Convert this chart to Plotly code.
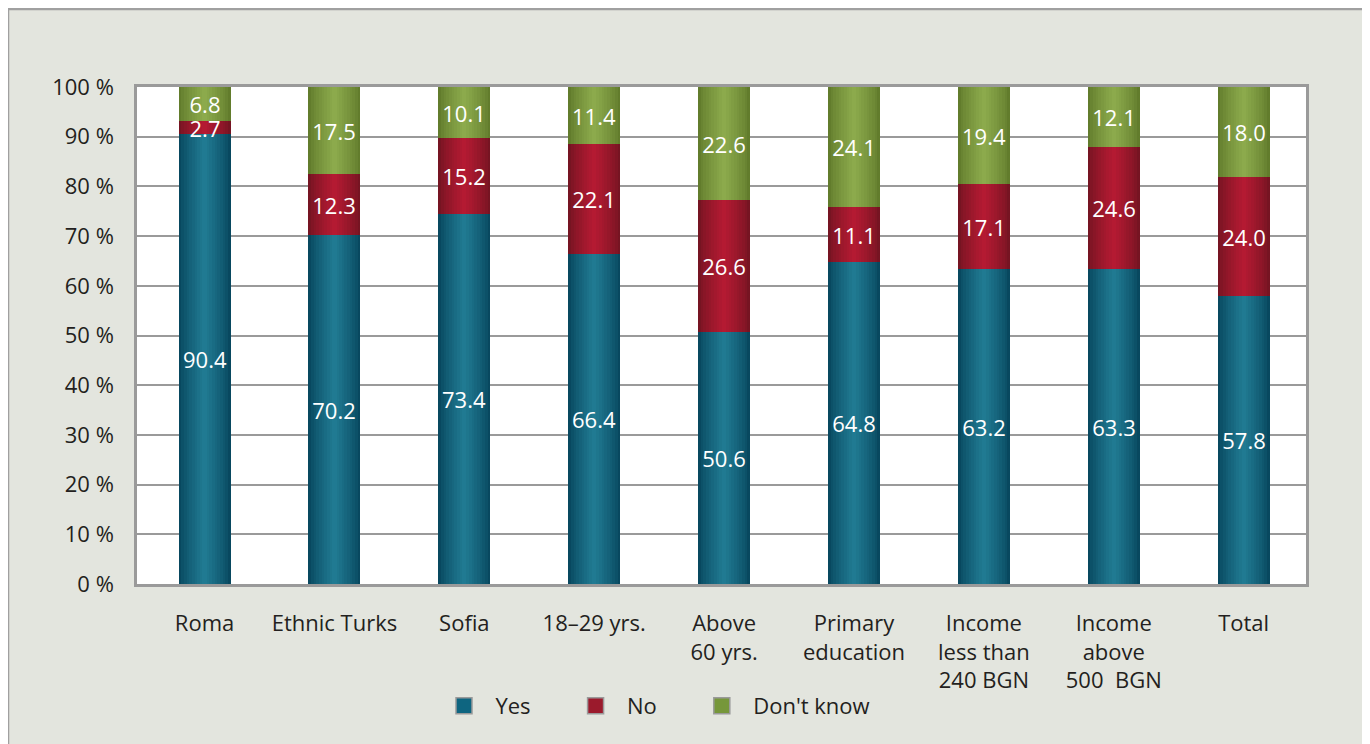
import plotly.graph_objects as go
import numpy as np

categories = ["Roma", "Ethnic Turks", "Sofia", "18–29 yrs.", "Above<br>60 yrs.",
              "Primary<br>education", "Income<br>less than<br>240 BGN",
              "Income<br>above<br>500  BGN", "Total"]
yes_vals = [90.4, 70.2, 73.4, 66.4, 50.6, 64.8, 63.2, 63.3, 57.8]
no_vals = [2.7, 12.3, 15.2, 22.1, 26.6, 11.1, 17.1, 24.6, 24.0]
dk_vals = [6.8, 17.5, 10.1, 11.4, 22.6, 24.1, 19.4, 12.1, 18.0]
series_names = ["Yes", "No", "Don't know"]
y_ticks = [0, 10, 20, 30, 40, 50, 60, 70, 80, 90, 100]

series = [yes_vals, no_vals, dk_vals]
# (edge colour, centre colour) for a cylinder-like shading
shades = [((8, 72, 95), (32, 122, 146)),
          ((118, 20, 34), (180, 26, 50)),
          ((98, 124, 44), (140, 170, 76))]
legend_colors = ["#0e6580", "#9b1a2c", "#76973a"]

arr = np.array(series, dtype=float)
totals = arr.sum(axis=0)
norm = arr / totals * 100
bases = np.vstack([np.zeros(arr.shape[1]), np.cumsum(norm, axis=0)[:-1]])

# page has an 8px body margin: figure pixel = screen pixel - 8
W, H = 1370, 744
PL, PR, PT, PB = 129, 1298, 79, 576   # plot area in figure pixels
FONT = "Open Sans"
FS = 22

BAR_W = 0.4
N_STRIPS = 10
fig = go.Figure()
x_idx = list(range(len(categories)))

for s in range(3):
    edge, centre = shades[s]
    for k in range(N_STRIPS):
        t = k / (N_STRIPS - 1)
        w = BAR_W * (1 - 0.92 * t)
        col = tuple(int(round(edge[i] + (centre[i] - edge[i]) * (t ** 0.8))) for i in range(3))
        fig.add_trace(go.Bar(
            x=x_idx, y=norm[s], base=bases[s], width=w,
            marker=dict(color="rgb(%d,%d,%d)" % col, line=dict(width=0)),
            showlegend=False, hoverinfo="skip"))
    # transparent full-width bar carrying the labels
    fig.add_trace(go.Bar(
        x=x_idx, y=norm[s], base=bases[s], width=BAR_W,
        marker=dict(color="rgba(0,0,0,0)", line=dict(width=0)),
        text=["%.1f" % v for v in series[s]], textposition="inside",
        insidetextanchor="middle",
        textfont=dict(color="white", size=FS, family=FONT),
        showlegend=False, hoverinfo="skip"))

NB = "\u00a0"
legend_labels = [NB * 2 + "Yes" + NB * 7, NB * 2 + "No" + NB * 7, NB * 2 + "Don't know"]
for s in range(3):
    fig.add_trace(go.Scatter(
        x=[None], y=[None], mode="markers", name=legend_labels[s],
        marker=dict(symbol="square", size=26, color=legend_colors[s],
                    line=dict(color="#9a9a9a", width=1.5))))

fig.update_layout(
    width=W, height=H,
    template="none",
    barmode="overlay",
    bargap=0,
    uniformtext=dict(mode="show", minsize=FS),
    paper_bgcolor="white",
    plot_bgcolor="white",
    margin=dict(l=PL, r=W - PR, t=PT, b=H - PB, pad=0),
    font=dict(family=FONT, size=FS, color="#231f20"),
    xaxis=dict(tickmode="array", tickvals=x_idx, ticktext=categories,
               range=[-0.52, len(categories) - 0.52], automargin=False,
               showgrid=False, showline=True, mirror=True,
               linecolor="#9a9a9a", linewidth=2.5,
               ticks="", ticklabelstandoff=18, zeroline=False),
    yaxis=dict(range=[0, 100], tickvals=y_ticks, ticktext=["%d %%" % v for v in y_ticks],
               automargin=False,
               showgrid=True, gridcolor="#9a9a9a", gridwidth=2,
               showline=True, mirror=True, linecolor="#9a9a9a", linewidth=2.5,
               ticks="", ticklabelstandoff=16, zeroline=False),
    legend=dict(orientation="h", xref="container", yref="container",
                x=436 / W, y=1 - 698 / H, xanchor="left", yanchor="middle",
                font=dict(size=FS), bgcolor="rgba(0,0,0,0)",
                itemsizing="trace"),
    shapes=[
        dict(type="rect", xref="paper", yref="paper",
             x0=(0 - PL) / (PR - PL), x1=(1358 - PL) / (PR - PL),
             y0=(PB - 760) / (PB - PT), y1=(PB - 1) / (PB - PT),
             fillcolor="#e3e5de", line=dict(color="#a0a0a0", width=2.5), layer="below"),
        dict(type="rect", xref="paper", yref="paper", x0=0, x1=1, y0=0, y1=1,
             fillcolor="white", line=dict(width=0), layer="below"),
    ],
)

fig.write_html("out.html")
